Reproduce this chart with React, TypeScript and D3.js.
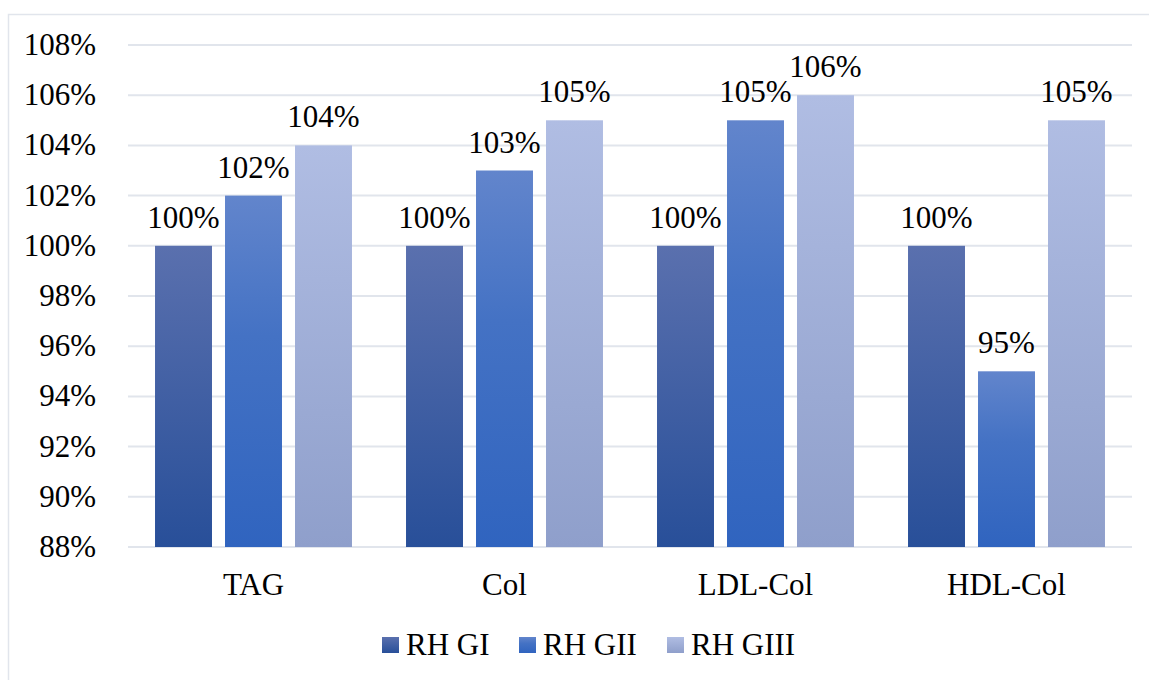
import React from "react";
import * as d3 from "d3";

const categories = ["TAG", "Col", "LDL-Col", "HDL-Col"];
const seriesNames = ["RH GI", "RH GII", "RH GIII"];
const gi = [100, 100, 100, 100];
const gii = [102, 103, 105, 95];
const giii = [104, 105, 106, 105];
const yTicks = [88, 90, 92, 94, 96, 98, 100, 102, 104, 106, 108];

const gradients = [
  { top: "#5a70ae", bottom: "#284f99" },
  { top: "#6285cc", mid: "#4472c4", bottom: "#3064bf" },
  { top: "#b0bde3", bottom: "#8f9fcb" },
];

export default function App() {
  const W = 1149, H = 680;
  const left = 128, right = 1132, top = 45, bottom = 547;
  const x0 = d3.scaleBand().domain(categories).range([left, right]).paddingInner(0).paddingOuter(0);
  const x1 = d3.scaleBand().domain(seriesNames).range([0, x0.bandwidth()]).paddingInner(0.186).paddingOuter(0.386);
  const y = d3.scaleLinear().domain([88, 108]).range([bottom, top]);
  const data = [gi, gii, giii];
  const font = "'Liberation Serif', 'Times New Roman', serif";
  const fs = 31;

  const legendItems = [
    { x: 382, name: seriesNames[0] },
    { x: 519, name: seriesNames[1] },
    { x: 667, name: seriesNames[2] },
  ];

  return (
    <svg width={W} height={H} style={{ position: "absolute", left: 0, top: 0 }} fontFamily={font}>
      <defs>
        {gradients.map((g, i) => (
          <linearGradient key={i} id={`g${i}`} x1="0" y1="0" x2="0" y2="1">
            <stop offset="0" stopColor={g.top} />
            {g.mid && <stop offset="0.4" stopColor={g.mid} />}
            <stop offset="1" stopColor={g.bottom} />
          </linearGradient>
        ))}
      </defs>
      <rect x={0} y={0} width={W} height={H} fill="#fff" />
      <rect x={8.5} y={14.5} width={1160} height={700} fill="none" stroke="#e1e5ec" strokeWidth={1.5} />
      {yTicks.map((t) => (
        <g key={t}>
          <line x1={left} x2={right} y1={y(t)} y2={y(t)} stroke="#e1e5ec" strokeWidth={2} />
          <text x={96} y={y(t) + 10} textAnchor="end" fontSize={fs} fill="#000">{t}%</text>
        </g>
      ))}
      {categories.map((c, ci) => (
        <g key={c}>
          {data.map((s, si) => {
            const bx = (x0(c) as number) + (x1(seriesNames[si]) as number);
            const v = s[ci];
            return (
              <g key={si}>
                <rect x={bx} y={y(v)} width={x1.bandwidth()} height={bottom - y(v)} fill={`url(#g${si})`} />
                <text x={bx + x1.bandwidth() / 2} y={y(v) - 18} textAnchor="middle" fontSize={fs} fill="#000">{v}%</text>
              </g>
            );
          })}
          <text x={(x0(c) as number) + x0.bandwidth() / 2} y={595} textAnchor="middle" fontSize={fs} fill="#000">{c}</text>
        </g>
      ))}
      {legendItems.map((l, i) => (
        <g key={l.name}>
          <rect x={l.x} y={637} width={17} height={16} fill={`url(#g${i})`} />
          <text x={l.x + 24} y={655} fontSize={fs} fill="#000">{l.name}</text>
        </g>
      ))}
    </svg>
  );
}
